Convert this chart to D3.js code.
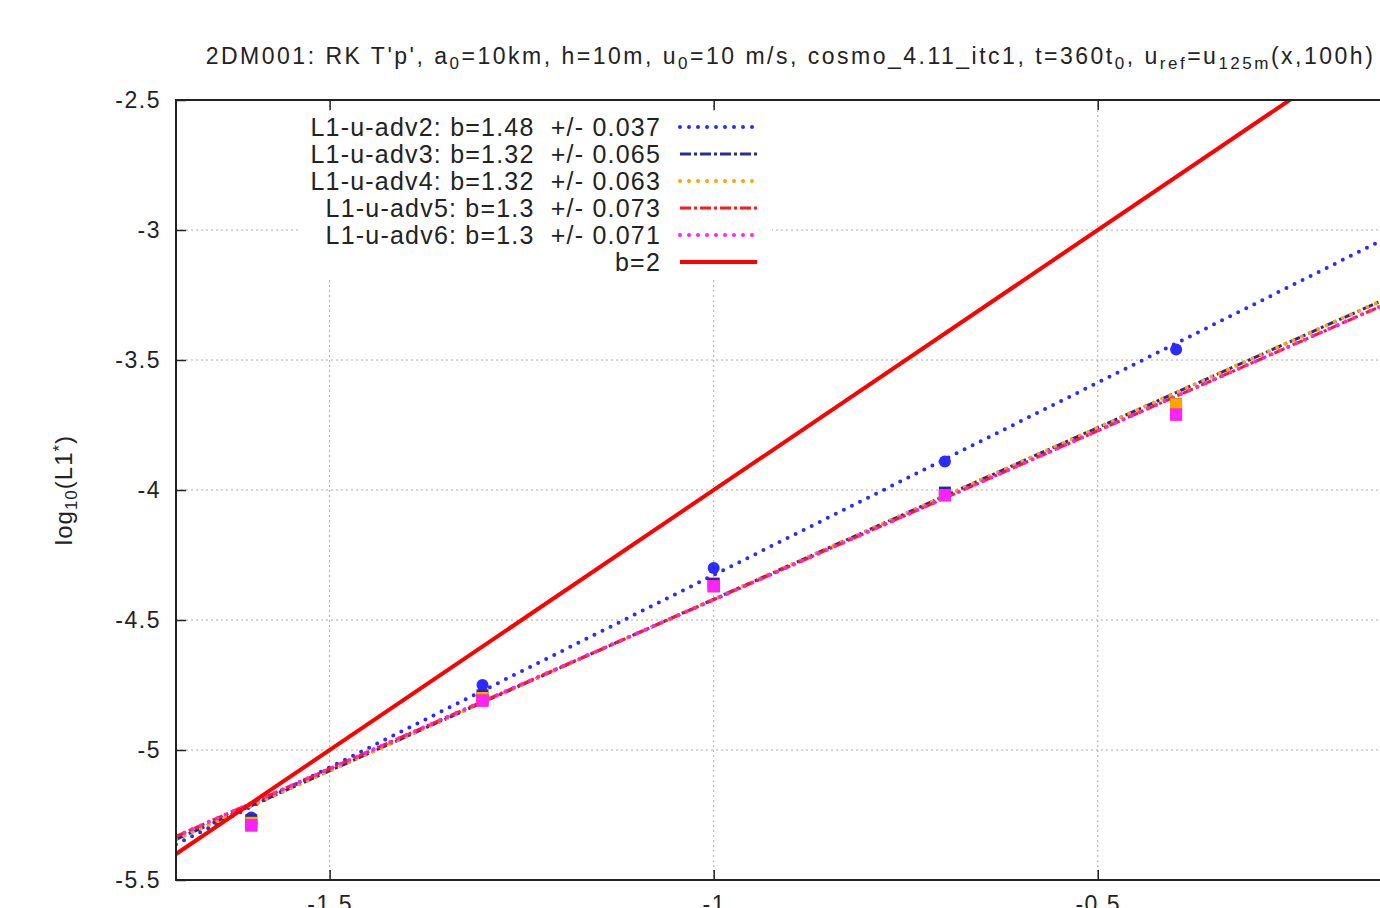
<!DOCTYPE html>
<html lang="en">
<head>
<meta charset="utf-8">
<title>2DM001 convergence</title>
<script src="https://d3js.org/d3.v7.min.js"></script>
<style>
  body { margin: 0; background: #fff; overflow: hidden; }
  svg text { font-family: "Liberation Sans", Arial, sans-serif; fill: #222; }
  .tick text { font-size: 23px; letter-spacing: 1.5px; }
</style>
</head>
<body>
<script>
// x = log10(dx), same for every series
var xVals = [-1.602, -1.301, -1.0, -0.699, -0.398];

var adv2 = [-5.26, -4.75, -4.30, -3.89, -3.46];
var adv3 = [-5.27, -4.79, -4.36, -4.01, -3.67];
var adv4 = [-5.28, -4.80, -4.37, -4.02, -3.67];
var adv5 = [-5.29, -4.81, -4.37, -4.02, -3.71];
var adv6 = [-5.29, -4.81, -4.37, -4.02, -3.71];

// fitted lines y = a + b*x
var slopes     = [1.48, 1.32, 1.32, 1.3, 1.3, 2];
var intercepts = [-2.847, -3.10, -3.10, -3.122, -3.122, -2];
var legendText = ["L1-u-adv2: b=1.48  +/- 0.037", "L1-u-adv3: b=1.32  +/- 0.065",
                  "L1-u-adv4: b=1.32  +/- 0.063", "L1-u-adv5: b=1.3  +/- 0.073",
                  "L1-u-adv6: b=1.3  +/- 0.071", "b=2"];

var xTicks = [-1.5, -1, -0.5];
var yTicks = [-2.5, -3, -3.5, -4, -4.5, -5, -5.5];

var w = 1380, h = 908;
// plot area (window.top is read-only, so prefixed names)
var pLeft = 176, pRight = 1405, pTop = 100, pBottom = 880;

var x = d3.scaleLinear().domain([-1.7, -0.1]).range([pLeft, pRight]);
var y = d3.scaleLinear().domain([-5.5, -2.5]).range([pBottom, pTop]);

var svg = d3.select("body").append("svg").attr("width", w).attr("height", h);

svg.append("defs").append("clipPath").attr("id", "plotclip")
   .append("rect").attr("x", pLeft).attr("y", pTop)
   .attr("width", pRight - pLeft).attr("height", pBottom - pTop);

// grid
svg.append("g").selectAll("line").data(xTicks).enter().append("line")
   .attr("x1", function(d){ return x(d); }).attr("x2", function(d){ return x(d); })
   .attr("y1", pTop).attr("y2", pBottom)
   .attr("stroke", "#aaa").attr("stroke-width", 1).attr("stroke-dasharray", "2,3");
svg.append("g").selectAll("line").data(yTicks.slice(1, -1)).enter().append("line")
   .attr("x1", pLeft).attr("x2", pRight)
   .attr("y1", function(d){ return y(d); }).attr("y2", function(d){ return y(d); })
   .attr("stroke", "#aaa").attr("stroke-width", 1).attr("stroke-dasharray", "2,3");

// styles for each series
var styles = [
  {color: "#2b2bff", dash: "0,9",        width: 4,   cap: "round"},
  {color: "#2a2a9a", dash: "11,3,3,3",   width: 3,   cap: "butt"},
  {color: "#ffa500", dash: "0,9",        width: 4,   cap: "round"},
  {color: "#ff1a1a", dash: "11,3,3,3",   width: 3,   cap: "butt"},
  {color: "#ff22ff", dash: "0,9",        width: 4,   cap: "round"},
  {color: "#ff0000", dash: null,         width: 4,   cap: "butt"}
];

var plot = svg.append("g").attr("clip-path", "url(#plotclip)");

// fit lines
var xd = x.domain();
slopes.forEach(function(b, i) {
  var line = plot.append("line")
     .attr("x1", x(xd[0])).attr("y1", y(intercepts[i] + b * xd[0]))
     .attr("x2", x(xd[1])).attr("y2", y(intercepts[i] + b * xd[1]))
     .attr("stroke", styles[i].color).attr("stroke-width", styles[i].width)
     .attr("stroke-linecap", styles[i].cap);
  if (styles[i].dash) line.attr("stroke-dasharray", styles[i].dash);
});

// points
var series = [adv2, adv3, adv4, adv5, adv6];
series.forEach(function(vals, i) {
  var pts = vals.map(function(v, k){ return [xVals[k], v]; });
  if (i == 0) {
    plot.append("g").selectAll("circle").data(pts).enter().append("circle")
       .attr("cx", function(d){ return x(d[0]); })
       .attr("cy", function(d){ return y(d[1]); })
       .attr("r", 6).attr("fill", styles[i].color);
  } else {
    plot.append("g").selectAll("rect").data(pts).enter().append("rect")
       .attr("x", function(d){ return x(d[0]) - 6; })
       .attr("y", function(d){ return y(d[1]) - 6; })
       .attr("width", 12).attr("height", 12).attr("fill", styles[i].color);
  }
});

// legend with white box
var legend = svg.append("g");
legend.append("rect").attr("x", 298).attr("y", 111).attr("width", 474).attr("height", 166).attr("fill", "#fff");
legendText.forEach(function(t, i) {
  var ly = 127 + i * 27;
  legend.append("text").attr("x", 661).attr("y", ly).attr("dy", "0.36em")
     .attr("text-anchor", "end").style("font-size", "25px").style("letter-spacing", "1.2px")
     .style("white-space", "pre").text(t);
  var sample = legend.append("line").attr("x1", 680).attr("x2", 757)
     .attr("y1", ly).attr("y2", ly)
     .attr("stroke", styles[i].color).attr("stroke-width", styles[i].width)
     .attr("stroke-linecap", styles[i].cap);
  if (styles[i].dash) sample.attr("stroke-dasharray", styles[i].dash);
});

// axes
var fmt = function(d){ return String(d); };
svg.append("g").attr("transform", "translate(" + pLeft + ",0)")
   .call(d3.axisLeft(y).tickValues(yTicks).tickFormat(fmt).tickSizeInner(-10).tickSizeOuter(0).tickPadding(15));
svg.append("g").attr("transform", "translate(0," + pBottom + ")")
   .call(d3.axisBottom(x).tickValues(xTicks).tickFormat(fmt).tickSizeInner(-10).tickSizeOuter(0).tickPadding(16));
svg.append("g").attr("transform", "translate(0," + pTop + ")")
   .call(d3.axisTop(x).tickValues(xTicks).tickFormat("").tickSizeInner(-10).tickSizeOuter(0));
svg.selectAll(".domain").remove();
svg.selectAll(".tick line").attr("stroke", "#222").attr("stroke-width", 1.5);

// frame
svg.append("rect").attr("x", pLeft).attr("y", pTop)
   .attr("width", pRight - pLeft).attr("height", pBottom - pTop)
   .attr("fill", "none").attr("stroke", "#222").attr("stroke-width", 2);

// y label
var yl = svg.append("text").attr("transform", "translate(72,490) rotate(-90)")
   .attr("text-anchor", "middle").style("font-size", "24px").style("letter-spacing", "1px");
yl.append("tspan").text("log");
yl.append("tspan").attr("baseline-shift", "-30%").style("font-size", "17px").text("10");
yl.append("tspan").text("(L1");
yl.append("tspan").attr("baseline-shift", "40%").style("font-size", "17px").text("*");
yl.append("tspan").text(")");

// title
var title = svg.append("text").attr("x", (pLeft + pRight) / 2).attr("y", 64)
   .attr("text-anchor", "middle").style("font-size", "23px").style("letter-spacing", "2.5px");
[["2DM001: RK T'p', a", 0], ["0", -1], ["=10km, h=10m, u", 0], ["0", -1],
 ["=10 m/s, cosmo_4.11_itc1, t=360t", 0], ["0", -1], [", u", 0], ["ref", -1],
 ["=u", 0], ["125m", -1], ["(x,100h)", 0]].forEach(function(p) {
  var ts = title.append("tspan").text(p[0]);
  if (p[1] < 0) ts.attr("baseline-shift", "-30%").style("font-size", "17px");
});
</script>
</body>
</html>
